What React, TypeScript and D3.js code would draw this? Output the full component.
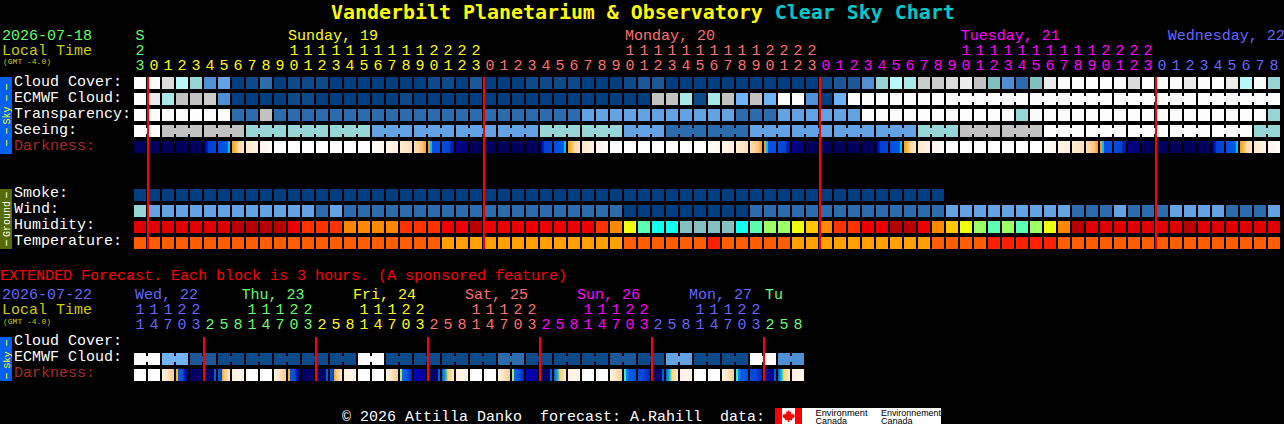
import React from "react";
import * as d3 from "d3";

// ---------- data ----------
const mainHours = [23,0,1,2,3,4,5,6,7,8,9,10,11,12,13,14,15,16,17,18,19,20,21,22,23,0,1,2,3,4,5,6,7,8,9,10,11,12,13,14,15,16,17,18,19,20,21,22,23,0,1,2,3,4,5,6,7,8,9,10,11,12,13,14,15,16,17,18,19,20,21,22,23,0,1,2,3,4,5,6,7,8];
const extHours = [11,14,17,20,23,2,5,8,11,14,17,20,23,2,5,8,11,14,17,20,23,2,5,8,11,14,17,20,23,2,5,8,11,14,17,20,23,2,5,8,11,14,17,20,23,2,5,8];

const cloudCover = [
  15,15,13,10,8,4,5,0,1,3,
  0,1,1,1,0,0,0,0,0,0,
  0,1,1,0,2,0,0,0,1,1,
  1,1,0,0,0,1,2,2,0,0,
  0,0,0,0,0,0,0,0,0,1,
  2,2,4,8,10,9,12,12,13,14,
  11,7,4,3,7,14,15,15,15,15,
  15,13,15,15,15,14,15,15,14,10,
  15,8];
const ecmwfCloud = [
  15,14,9,11,11,12,4,0,0,0,
  0,1,1,0,0,0,0,0,0,1,
  0,0,0,0,0,0,0,0,0,0,
  0,0,0,0,0,0,0,11,11,9,
  1,9,11,6,11,6,15,15,4,0,
  6,15,15,15,15,15,15,15,15,15,
  15,15,15,15,15,15,15,15,15,15,
  15,15,15,15,15,15,15,15,15,15,
  15,15];
const transparency = [
  15,15,15,15,15,15,15,3,3,11,
  3,3,3,3,3,3,3,3,3,3,
  3,3,3,3,3,3,3,3,3,3,
  3,3,5,5,5,5,5,5,5,5,
  5,5,5,3,3,3,5,5,5,5,
  5,5,15,15,15,15,15,15,15,15,
  15,15,15,8,15,15,15,15,15,15,
  15,15,15,15,15,15,15,15,15,15,
  15,8];
const seeingBlocks = [15,11,11,8,8,8,5,5,5,5,8,8,5,3,3,5,5,5,5,8,11,11,15,15,15,15,15,8];
const seeingSizes = [2,3,3,3,3,3,3,3,3,3,3,3,3,3,3,3,3,3,3,3,3,3,3,3,3,3,3,2];
const ecmwfJoinedSizes = [6,6,6,6];
const ecmwfJoinedStart = 58;
const smoke = [
  0,0,0,0,0,0,0,0,0,0,
  0,0,0,0,0,0,0,0,0,0,
  0,0,0,0,0,0,0,0,0,0,
  0,0,0,0,0,0,0,0,0,0,
  0,0,0,0,0,0,0,0,0,0,
  0,0,0,0,0,0,0,0];
const wind = [
  8,5,5,5,5,5,5,5,5,5,
  5,5,5,3,5,3,3,3,3,3,
  3,3,3,3,3,3,3,3,3,3,
  3,3,3,3,3,0,0,0,0,0,
  0,0,0,0,3,3,3,3,3,3,
  3,3,3,3,3,3,3,3,5,5,
  5,5,5,5,5,5,5,3,3,3,
  5,3,3,3,5,5,5,5,3,3,
  3,5];
const humidity = [
  1,1,1,1,1,1,1,0,0,0,
  0,2,3,3,3,4,4,4,4,3,
  3,3,2,2,0,2,2,2,2,2,
  2,2,2,3,4,6,8,9,9,10,
  10,10,10,9,8,7,7,6,5,4,
  3,3,2,2,0,0,2,4,5,6,
  7,8,7,8,7,6,4,0,1,1,
  1,1,1,1,1,0,1,1,1,1,
  1,1];
const temperature = [
  1,1,1,1,1,1,1,1,1,1,
  1,1,1,1,1,1,1,1,1,1,
  1,1,0,0,0,0,0,0,0,0,
  0,0,0,0,0,1,1,1,1,1,
  1,2,1,1,1,1,1,0,0,0,
  0,0,0,0,0,0,0,1,1,1,
  1,2,2,2,2,2,1,1,1,1,
  1,1,1,1,1,1,1,1,1,1,
  1,1];
const darkness = [
  "n","n","n","n","n","P1","P2","M1","M2","M3",
  "W","W","W","W","W","W","W","E3","E2","E1",
  "E0","D1","D2","D3","n","n","n","n","n","P1",
  "P2","M1","M2","M3","W","W","W","W","W","W",
  "W","E3","E2","E1","E0","D1","D2","D3","n","n",
  "n","n","n","P1","P2","M1","M2","M3","W","W",
  "W","W","W","W","W","E3","E2","E1","E0","D1",
  "D2","D3","n","n","n","n","n","P1","P2","M1",
  "M2","M3"];
const extEcmwfPairs = [15,6,2,1,1,1,1,1,15,1,1,1,1,3,1,1,1,2,1,5,1,1,15,4];
const extDarkness = [
  "W","W","XE","T0","N0","R0","X0","XP",
  "W","W","XE","T0","N0","R0","X0","XP",
  "W","W","XE","T1","N1","R1","X1","XP",
  "W","W","XE","T1","N1","R1","X1","XP",
  "W","W","XE","T2","N2","R1","X2","XP",
  "W","W","XE","T2","N2","R2","X2","XP"];

const mainDayLabels = [
  { text: "S", col: 0.0, center: true }, { text: "Sunday, 19", col: 11 }, { text: "Monday, 20", col: 35.07 },
  { text: "Tuesday, 21", col: 59.05 }, { text: "Wednesday, 22", col: 73.84 }];
const extDayLabels = [
  { text: "Wed, 22", col: 0.07 }, { text: "Thu, 23", col: 7.68 }, { text: "Fri, 24", col: 15.64 }, { text: "Sat, 25", col: 23.64 },
  { text: "Sun, 26", col: 31.64 }, { text: "Mon, 27", col: 39.64 }, { text: "Tu", col: 45.07 }];
const mainRowLabels = ["Cloud Cover:", "ECMWF Cloud:", "Transparency:", "Seeing:", "Darkness:"];
const groundRowLabels = ["Smoke:", "Wind:", "Humidity:", "Temperature:"];
const extRowLabels = ["Cloud Cover:", "ECMWF Cloud:", "Darkness:"];
const mainMidnights = [1, 25, 49, 73];
const extMidnights = [5, 13, 21, 29, 37, 45];

// ---------- palettes ----------
const cloudPalette = ["#003f7f","#0c4a8a","#1c5897","#2c6cac","#4f8fd3","#63a3e3","#70b2f4","#80c0c0","#96d6d6","#a8e8e8","#b8f8f8","#c2c2c2","#cbcbcb","#dcdcdc","#ececec","#fcfcfc"];
const humidityPalette = ["#b80000","#e00000","#ee0000","#ff3300","#ff8800","#ffc800","#eeff10","#9cff66","#5cffb0","#10ffee","#85c0c0"];
const temperaturePalette = ["#ffa000","#ff5e00","#ff2000"];
const GREEN = "#66ff66", YELLOW = "#ffff00", SALMON = "#ff7070", MAGENTA = "#ff00ff", BLUE = "#6666ff", OLIVE = "#cccc00";

type Stop = [number, string];
const darkStops: Record<string, Stop[]> = {
  W: [[0, "#ffffff"], [1, "#ffffff"]],
  n: [[0, "#00005c"], [1, "#00005c"]],
  P1: [[0, "#000078"], [0.17, "#000090"], [0.18, "#0020b0"], [0.34, "#0020b0"], [0.35, "#0040d0"], [1, "#0048d8"]],
  P2: [[0, "#0050e0"], [0.82, "#0058e4"], [0.83, "#00c0ff"], [1, "#00c0ff"]],
  M1: [[0, "#ff9a10"], [0.25, "#ffb850"], [0.6, "#ffdcaa"], [1, "#ffe8c8"]],
  M2: [[0, "#ffeacc"], [1, "#fff2e2"]],
  M3: [[0, "#fff4e8"], [1, "#fffcf8"]],
  E3: [[0, "#fffcf8"], [1, "#fff6ec"]],
  E2: [[0, "#fff4e6"], [1, "#ffeede"]],
  E1: [[0, "#ffeed4"], [1, "#ffe0b8"]],
  E0: [[0, "#ffe0b0"], [0.65, "#ffc880"], [1, "#ff9a20"]],
  D1: [[0, "#ff9a20"], [0.16, "#ff9a20"], [0.17, "#00c0ff"], [0.33, "#00c0ff"], [0.34, "#0050e0"], [1, "#0058e4"]],
  D2: [[0, "#0050e0"], [0.6, "#0044d4"], [0.8, "#0020a8"], [1, "#001ca0"]],
  D3: [[0, "#000090"], [1, "#000074"]],
  XE: [[0, "#fff0e0"], [0.5, "#ffe4c0"], [1, "#ffc880"]],
  XP: [[0, "#ffeedd"], [1, "#fff8f0"]],
  T0: [[0, "#ffb020"], [0.16, "#ffb020"], [0.17, "#0060e0"], [0.55, "#0050d8"], [0.75, "#0010a0"], [1, "#000080"]],
  N0: [[0, "#000060"], [1, "#000070"]],
  R0: [[0, "#000078"], [0.82, "#000060"], [0.83, "#0060e0"], [1, "#0060e0"]],
  X0: [[0, "#0060e0"], [0.33, "#0040c0"], [0.34, "#ffa020"], [0.55, "#ffc880"], [1, "#ffe8c0"]],
  T1: [[0, "#b8e070"], [0.16, "#b8e070"], [0.17, "#0070f0"], [0.6, "#0050e0"], [1, "#0020b0"]],
  N1: [[0, "#0000c0"], [1, "#000090"]],
  R1: [[0, "#000070"], [0.82, "#000060"], [0.83, "#0060e0"], [1, "#0060e0"]],
  X1: [[0, "#0060e0"], [0.33, "#30b0b0"], [0.5, "#ffd070"], [1, "#ffe8c8"]],
  T2: [[0, "#40e8c0"], [0.16, "#40e8c0"], [0.17, "#0090f8"], [0.4, "#0060e8"], [1, "#0050e0"]],
  N2: [[0, "#0050e0"], [0.6, "#0040d0"], [1, "#0020b8"]],
  R2: [[0, "#0030c0"], [0.5, "#000090"], [0.82, "#000080"], [0.83, "#0060e0"], [1, "#0060e0"]],
  X2: [[0, "#0060e0"], [0.3, "#00c8d0"], [0.5, "#ffd870"], [1, "#ffe8c8"]],
};

// ---------- layout ----------
const PITCH = 14, CELL = 12, LEFT = 134, MONO = "'Liberation Mono', monospace";
const x = d3.scaleLinear().domain([0, 82]).range([LEFT, LEFT + 82 * PITCH]);
const rowY = d3.scaleLinear().domain([0, 1]).range([77, 93]);
const groundY = d3.scaleLinear().domain([0, 1]).range([189, 205]);
const extY = d3.scaleLinear().domain([0, 1]).range([337, 353]);
const color = (p: string[]) => d3.scaleOrdinal<number, string>().domain(d3.range(p.length)).range(p);
const cloudColor = color(cloudPalette), humColor = color(humidityPalette), tempColor = color(temperaturePalette);
const mainDayColor = d3.scaleThreshold<number, string>().domain(mainMidnights).range([GREEN, YELLOW, SALMON, MAGENTA, BLUE]);
const extDayColor = d3.scaleThreshold<number, string>().domain(extMidnights).range([BLUE, GREEN, YELLOW, SALMON, MAGENTA, BLUE, GREEN]);

function Cells({ values, y, fill }: { values: number[]; y: number; fill: (v: number) => string }) {
  return <g>{values.map((v, i) => <rect key={i} x={x(i)} y={y} width={CELL} height={CELL} fill={fill(v)} />)}</g>;
}
// runs of blocks joined by a narrower neck across the gap
function Joined({ values, sizes, start, y, fill }: { values: number[]; sizes: number[]; start: number; y: number; fill: (v: number) => string }) {
  const out: React.ReactElement[] = [];
  let c = start;
  sizes.forEach((n, g) => {
    const v = values[g];
    for (let k = 0; k < n; k++) {
      out.push(<rect key={`${g}-${k}`} x={x(c + k)} y={y} width={CELL} height={CELL} fill={fill(v)} />);
      if (k < n - 1) out.push(<rect key={`${g}-${k}n`} x={x(c + k) + CELL} y={y + 3} width={PITCH - CELL} height={CELL - 6} fill={fill(v)} />);
    }
    c += n;
  });
  return <g>{out}</g>;
}
function Dark({ values, y, prefix }: { values: string[]; y: number; prefix: string }) {
  return <g>{values.map((k, i) => <rect key={i} x={x(i)} y={y} width={CELL} height={CELL} fill={`url(#${prefix}${k})`} />)}</g>;
}
function Label({ tx, ty, fill = "#fff", size = 15, children, anchor, weight }: any) {
  return <text x={tx} y={ty} fill={fill} fontSize={size} fontFamily={MONO} textAnchor={anchor} fontWeight={weight} style={{ whiteSpace: "pre" }}>{children}</text>;
}
function SideBar({ y, h, fill, text, tcolor, size, center, dashes }: any) {
  return <g>
    <rect x={0} y={y} width={12} height={h} fill={fill} />
    <text transform={`translate(9.5,${center}) rotate(-90)`} fill={tcolor} fontSize={size} fontFamily={MONO} textAnchor="middle">{text}</text>
    {dashes.map((d: number) => (
      <text key={d} transform={`translate(9,${d}) rotate(-90) scale(2,1)`} fill={tcolor} fontSize={10.5} fontFamily={MONO} textAnchor="middle">-</text>
    ))}
  </g>;
}

export default function App() {
  const ecmwfJoinValues = ecmwfJoinedSizes.map((_, g) => ecmwfCloud[ecmwfJoinedStart + g * 6]);
  const extPairSizes = extEcmwfPairs.map(() => 2);
  return (
    <svg width={1284} height={424} viewBox="0 0 1284 424" style={{ position: "fixed", left: 0, top: 0, background: "#000" }}>
      <defs>
        {Object.entries(darkStops).map(([k, stops]) => (
          <linearGradient key={k} id={`dk${k}`} x1="0" x2="1" y1="0" y2="0">
            {stops.map(([o, c], i) => <stop key={i} offset={o} stopColor={c} />)}
          </linearGradient>
        ))}
      </defs>

      <text x={331} y={19} fontSize={19.93} fontWeight="bold" fontFamily="'DejaVu Sans Mono', monospace" fill="#ffff00" style={{ whiteSpace: "pre" }}>
        Vanderbilt Planetarium &amp; Observatory <tspan fill="#00c8c8">Clear Sky Chart</tspan>
      </text>

      {/* header */}
      <Label tx={2} ty={40} fill={GREEN}>2026-07-18</Label>
      <Label tx={2} ty={54.5} fill={OLIVE}>Local Time</Label>
      <Label tx={3} ty={64} fill={OLIVE} size={8}>(GMT -4.0)</Label>
      {mainDayLabels.map((d) => (
        <Label key={d.text} tx={d.center ? x(d.col) + 6 : x(d.col)} ty={40} anchor={d.center ? "middle" : "start"} fill={mainDayColor(d.col)}>{d.text}</Label>
      ))}
      {mainHours.map((h, i) => (
        <g key={i}>
          {h >= 10 && <Label tx={x(i) + 6} ty={55} anchor="middle" fill={mainDayColor(i)}>{Math.floor(h / 10)}</Label>}
          <Label tx={x(i) + 6} ty={70} anchor="middle" fill={mainDayColor(i)}>{h % 10}</Label>
        </g>
      ))}

      {/* sky block */}
      {mainRowLabels.map((t, i) => <Label key={t} tx={14} ty={rowY(i) + 9} fill={i === 4 ? "#a52a2a" : "#fff"}>{t}</Label>)}
      <Cells values={cloudCover} y={rowY(0)} fill={cloudColor} />
      <Cells values={ecmwfCloud.slice(0, ecmwfJoinedStart)} y={rowY(1)} fill={cloudColor} />
      <Joined values={ecmwfJoinValues} sizes={ecmwfJoinedSizes} start={ecmwfJoinedStart} y={rowY(1)} fill={cloudColor} />
      <Cells values={transparency} y={rowY(2)} fill={cloudColor} />
      <Joined values={seeingBlocks} sizes={seeingSizes} start={0} y={rowY(3)} fill={cloudColor} />
      <Dark values={darkness} y={rowY(4)} prefix="dk" />
      <SideBar y={77} h={77} fill="#0060f0" text="Sky" tcolor="#ffff00" size={10} center={115.5} dashes={[87, 98, 131, 143]} />

      {/* ground block */}
      {groundRowLabels.map((t, i) => <Label key={t} tx={14} ty={groundY(i) + 8} >{t}</Label>)}
      <Cells values={smoke} y={groundY(0)} fill={cloudColor} />
      <Cells values={wind} y={groundY(1)} fill={cloudColor} />
      <Cells values={humidity} y={groundY(2)} fill={humColor} />
      <Cells values={temperature} y={groundY(3)} fill={tempColor} />
      <SideBar y={189} h={60} fill="#556b00" text="Ground" tcolor="#ffffff" size={10} center={219} dashes={[195, 243]} />

      {mainMidnights.map((c) => <rect key={c} x={x(c) - 1} y={77} width={2} height={172} fill="#ff0000" />)}

      {/* extended */}
      <Label tx={0} ty={280} fill="#ff0000">EXTENDED Forecast. Each block is 3 hours. (A sponsored feature)</Label>
      <Label tx={2} ty={299} fill={BLUE}>2026-07-22</Label>
      <Label tx={2} ty={314} fill={OLIVE}>Local Time</Label>
      <Label tx={3} ty={324} fill={OLIVE} size={8}>(GMT -4.0)</Label>
      {extDayLabels.map((d) => (
        <Label key={d.text} tx={x(d.col)} ty={299} fill={extDayColor(Math.ceil(d.col))}>{d.text}</Label>
      ))}
      {extHours.map((h, i) => (
        <g key={i}>
          {h >= 10 && <Label tx={x(i) + 6} ty={314} anchor="middle" fill={extDayColor(i)}>{Math.floor(h / 10)}</Label>}
          <Label tx={x(i) + 6} ty={329} anchor="middle" fill={extDayColor(i)}>{h % 10}</Label>
        </g>
      ))}
      {extRowLabels.map((t, i) => <Label key={i} tx={14} ty={extY(i) + 8} fill={i === 2 ? "#a52a2a" : "#fff"}>{t}</Label>)}
      <Joined values={extEcmwfPairs} sizes={extPairSizes} start={0} y={extY(1)} fill={cloudColor} />
      <Dark values={extDarkness} y={extY(2)} prefix="dk" />
      <SideBar y={337} h={44} fill="#0060f0" text="Sky" tcolor="#ffff00" size={9.5} center={360} dashes={[343, 376]} />
      {extMidnights.map((c) => <rect key={c} x={x(c) - 1} y={337} width={2} height={44} fill="#ff0000" />)}

      {/* footer */}
      <Label tx={342} ty={420.5}>{"\u00a9 2026 Attilla Danko  forecast: A.Rahill  data:"}</Label>
      <rect x={775} y={408} width={166} height={16} fill="#fff" />
      <rect x={775} y={408} width={7} height={16} fill="#ff0000" />
      <rect x={795} y={408} width={7} height={16} fill="#ff0000" />
      <path d="M788.5 410 l1.2 2 1.6-.6 -.5 3 1.6-1 .4 1.2 2-.2 -.6 1.8 .8.5 -3 2.4 .3 1.2 -3-.4 v2 h-1.4 v-2 l-3 .4 .3-1.2 -3-2.4 .8-.5 -.6-1.8 2 .2 .4-1.2 1.6 1 -.5-3 1.6 .6z" fill="#ff0000" />
      <g fill="#000" fontFamily="'Liberation Sans', sans-serif" fontSize={9}>
        <text x={815.5} y={416} textLength={52} lengthAdjust="spacingAndGlyphs">Environment</text>
        <text x={815.5} y={423.5}>Canada</text>
        <text x={881} y={416} textLength={60} lengthAdjust="spacingAndGlyphs">Environnement</text>
        <text x={881} y={423.5}>Canada</text>
      </g>
    </svg>
  );
}
